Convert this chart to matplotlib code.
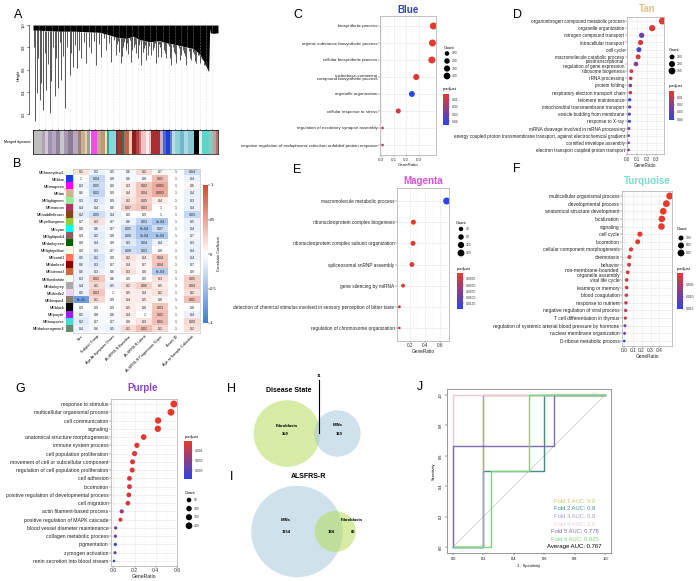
import numpy as np
import matplotlib
matplotlib.use("Agg")
import matplotlib.pyplot as plt
from matplotlib.colors import LinearSegmentedColormap, Normalize, to_rgb
from matplotlib.cm import ScalarMappable
from matplotlib.patches import Circle

plt.rcParams["font.family"] = ["Liberation Sans", "DejaVu Sans"]

# =========================
# A: dendrogram + module colours (x = leaf order 0..555)
# =========================
leaf_x = [7, 12, 20, 25, 30, 40, 50, 55, 65, 75, 85, 97, 110, 120, 132, 145, 160, 175, 190, 205,
          220, 235, 250, 265, 280, 295, 310, 325, 340, 355, 370, 385, 400, 415, 430, 445, 460, 475,
          490, 505, 515, 527,
          3, 16, 35, 45, 60, 70, 80, 90, 103, 115, 126, 138, 152, 168, 182, 198, 212, 228, 242,
          255, 270, 282, 302, 318, 333, 348, 362, 378, 392, 408, 422, 438, 452, 468, 482, 498, 510, 522,
          252, 258, 262, 268, 274, 278, 285, 290, 298, 306, 314, 321, 329, 336, 344, 352, 359, 366,
          374, 381, 389, 396, 404, 411, 419, 426, 434, 441, 449, 456, 464, 471, 479, 486, 494, 501,
          508, 513, 519, 524]
leaf_h = [0.134, 0.388, 0.328, 0.478, 0.239, 0.418, 0.209, 0.493, 0.358, 0.433, 0.507, 0.254, 0.552,
          0.627, 0.612, 0.701, 0.657, 0.746, 0.642, 0.716, 0.776, 0.672, 0.731, 0.657, 0.776, 0.672,
          0.746, 0.642, 0.687, 0.731, 0.657, 0.716, 0.701, 0.642, 0.657, 0.731, 0.642, 0.687, 0.657,
          0.701, 0.642, 0.582,
          0.80, 0.70, 0.75, 0.65, 0.80, 0.70, 0.85, 0.72, 0.80, 0.75, 0.82, 0.78, 0.85, 0.80, 0.86,
          0.83, 0.88, 0.84, 0.87,
          0.86, 0.80, 0.84, 0.80, 0.82, 0.79, 0.81, 0.80, 0.83, 0.78, 0.81, 0.76, 0.79, 0.75, 0.77,
          0.74, 0.73, 0.70, 0.68,
          0.83, 0.76, 0.88, 0.72, 0.85, 0.80, 0.74, 0.87, 0.78, 0.83, 0.70, 0.86, 0.76, 0.82, 0.73,
          0.85, 0.78, 0.84, 0.71, 0.80, 0.86, 0.75, 0.83, 0.70, 0.80, 0.74, 0.84, 0.69, 0.78, 0.72,
          0.81, 0.70, 0.76, 0.68, 0.73, 0.66, 0.72, 0.64, 0.66, 0.62]
canopy_x = [0, 40, 80, 120, 160, 200, 230, 250, 280, 300, 320, 350, 380, 400, 420, 450, 480, 500,
            515, 527, 530, 532, 540, 555]
canopy_h = [0.955, 0.95, 0.945, 0.945, 0.94, 0.935, 0.91, 0.89, 0.88, 0.90, 0.87, 0.85, 0.86, 0.84,
            0.83, 0.81, 0.79, 0.74, 0.66, 0.58, 0.97, 0.93, 0.925, 0.93]
module_edges = [0, 28, 37, 46, 58, 70, 80, 92, 105, 120, 135, 145, 155, 162, 170, 175, 193, 205,
                215, 222, 228, 248, 256, 268, 274, 288, 298, 310, 318, 325, 340, 348, 355, 380,
                390, 398, 410, 418, 425, 440, 452, 465, 482, 498, 506, 528, 540, 550, 555]
module_colors = ["#BEBEBE", "#A8A8A8", "#D3C4D6", "#9E93AC", "#B5A7C4", "#8F8499", "#C8C8C8",
                 "#A897B0", "#8C7C94", "#B8A7BE", "#9B8577", "#C9AF8F", "#E6D4A0", "#A0A0A0",
                 "#F0F0F0", "#F04CF0", "#C8A88A", "#B89A7A", "#D8F0A0", "#40A0A0", "#80DCDC",
                 "#7A3A3A", "#A03A3A", "#3A703A", "#B86A5A", "#E8D0B0", "#8B2020", "#B04040",
                 "#D07070", "#F5C0C8", "#F8F0F0", "#E0C0C0", "#A83030", "#C0B0D0", "#5060E8",
                 "#2040D0", "#6080E0", "#C0D8E8", "#90D0D8", "#6FB8C8", "#A8D8E8", "#88C8D0",
                 "#000000", "#E8E8E8", "#58D8C8", "#A0C0C0", "#C0A0A0", "#B07070"]

# =========================
# B: module-trait relationships
# =========================
traits = ["Sex", "Subject Group", "Age At Symptom Onset", "ALSFRS-R Baseline", "ALSFRS-R Latest",
          "ALSFRS-R Progression Slope", "Batch ID", "Age at Sample Collection"]
me_names = ["MEhoneydew1", "MEblue", "MEmagenta", "MEtan", "MElightgreen", "MEmaroon",
            "MEsaddlebrown", "MEyellowgreen", "MEcyan", "MElightpink4", "MEdarkgreen",
            "MElightyellow", "MEcoral1", "MEdarkred", "MEsienna3", "MEfloralwhite", "MEdarkgrey",
            "MEthistle2", "MEbisque4", "MEblack", "MEpurple", "MEturquoise", "MEdarkseagreen4"]
me_colors = ["#F0FFF0", "#2040E0", "#FF00FF", "#D2B48C", "#90EE90", "#B03060", "#8B4513",
             "#9ACD32", "#00FFFF", "#8B5F65", "#006400", "#FFFFE0", "#FF7256", "#8B0000",
             "#CD6839", "#FFFAF0", "#A9A9A9", "#EED2EE", "#8B7D6B", "#000000", "#A020F0",
             "#40E0D0", "#698B69"]
me_pval = [
    ["0.1", "0.2", "0.5", "0.6", "0.2", "0.7", "1", "0.04"],
    ["1", "0.04", "0.9", "0.6", "0.8", "0.01", "1", "0.4"],
    ["0.3", "0.05", "0.9", "0.3", "0.02", "0.001", "1", "0.6"],
    ["0.6", "0.02", "0.9", "0.4", "0.04", "0.002", "1", "0.4"],
    ["0.3", "0.2", "0.9", "0.2", "0.05", "0.4", "1", "0.3"],
    ["0.4", "0.4", "0.6", "0.07", "0.03", "1", "1", "0.4"],
    ["0.2", "0.05", "0.4", "0.9", "0.9", "1", "1", "0.03"],
    ["0.7", "0.3", "0.7", "0.6", "0.03", "1e-04", "1", "0.5"],
    ["0.8", "0.6", "0.7", "0.05", "8e-04", "0.07", "1", "0.4"],
    ["0.9", "0.2", "0.8", "0.08", "7e-04", "6e-04", "1", "0.7"],
    ["0.9", "0.4", "0.9", "0.3", "0.04", "0.4", "1", "0.3"],
    ["0.9", "0.3", "0.7", "0.08", "0.03", "0.8", "1", "0.4"],
    ["0.5", "0.1", "0.9", "0.2", "0.4", "0.04", "1", "0.4"],
    ["0.6", "0.3", "0.7", "0.4", "0.7", "0.04", "1", "0.7"],
    ["0.6", "0.3", "0.6", "0.3", "0.8", "6e-04", "1", "0.9"],
    ["0.3", "0.02", "0.6", "0.9", "0.9", "0.3", "1", "0.05"],
    ["0.4", "0.1", "0.5", "0.2", "0.06", "0.5", "1", "0.04"],
    ["0.5", "0.03", "1", "0.5", "0.4", "0.2", "1", "0.2"],
    ["6e-15", "0.1", "0.9", "0.4", "0.5", "0.8", "1", "0.01"],
    ["0.9", "0.9", "0.9", "0.5", "0.8", "0.03", "1", "0.8"],
    ["0.5", "0.8", "0.6", "0.4", "1", "0.01", "1", "0.4"],
    ["0.2", "0.7", "0.7", "0.8", "0.3", "0.01", "1", "0.09"],
    ["0.4", "0.6", "0.5", "0.1", "0.01", "0.1", "1", "0.2"],
]
me_corr = [
    [0.15, -0.10, -0.05, -0.05, 0.20, -0.05, 0, -0.25],
    [0.00, -0.30, -0.05, -0.05, -0.05, 0.35, 0, -0.10],
    [-0.10, -0.25, -0.05, 0.10, 0.30, 0.45, 0, 0.05],
    [-0.05, -0.30, -0.03, 0.10, 0.30, 0.45, 0, -0.10],
    [-0.10, -0.15, -0.05, 0.15, 0.25, 0.10, 0, -0.10],
    [-0.10, -0.10, -0.05, 0.25, 0.30, 0.00, 0, -0.10],
    [-0.15, -0.25, -0.10, -0.02, 0.02, 0.00, 0, -0.30],
    [-0.05, 0.15, -0.05, -0.10, -0.30, -0.45, 0, -0.10],
    [-0.05, -0.10, -0.05, -0.25, -0.45, -0.25, 0, -0.10],
    [0.00, -0.15, -0.05, -0.25, -0.45, -0.45, 0, -0.05],
    [-0.02, -0.10, -0.02, -0.15, -0.30, -0.10, 0, -0.10],
    [0.00, -0.10, -0.05, -0.25, -0.30, 0.00, 0, -0.10],
    [-0.10, -0.20, -0.02, 0.15, 0.10, 0.30, 0, -0.10],
    [-0.10, -0.15, -0.05, 0.10, 0.05, 0.30, 0, -0.05],
    [-0.10, -0.10, -0.05, 0.15, 0.05, -0.40, 0, 0.00],
    [-0.10, 0.30, -0.05, 0.00, 0.00, 0.15, 0, 0.25],
    [-0.10, 0.20, -0.10, 0.15, 0.25, 0.10, 0, 0.25],
    [-0.10, 0.30, 0.00, 0.10, 0.10, 0.15, 0, 0.15],
    [-0.75, 0.20, -0.02, 0.10, 0.10, 0.05, 0, 0.35],
    [0.00, 0.00, 0.00, 0.10, 0.05, 0.30, 0, 0.00],
    [-0.10, -0.05, -0.05, 0.10, 0.00, 0.35, 0, -0.10],
    [-0.15, -0.05, -0.05, 0.05, 0.15, 0.35, 0, 0.20],
    [-0.10, -0.05, -0.10, 0.20, 0.35, 0.20, 0, 0.15],
]

# =========================
# C-G: GO enrichment dot plots
# =========================
blue_terms = ["biosynthetic process", "organic substance biosynthetic process",
              "cellular biosynthetic process", "nucleobase-containing\ncompound biosynthetic process",
              "organelle organization", "cellular response to stress",
              "regulation of excitatory synapse assembly",
              "negative regulation of endoplasmic reticulum unfolded protein response"]
blue_ratio = [0.418, 0.410, 0.405, 0.28, 0.245, 0.136, 0.01, 0.01]
blue_count = [450, 442, 437, 302, 265, 147, 11, 11]
blue_padj = [0.002, 0.0022, 0.0025, 0.004, 0.044, 0.008, 0.012, 0.016]

tan_terms = ["organonitrogen compound metabolic process", "organelle organization",
             "nitrogen compound transport", "intracellular transport", "cell cycle",
             "macromolecule catabolic process", "posttranscriptional\nregulation of gene expression",
             "ribosome biogenesis", "rRNA processing", "protein folding",
             "respiratory electron transport chain", "telomere maintenance",
             "mitochondrial transmembrane transport", "vesicle budding from membrane",
             "response to X-ray", "mRNA cleavage involved in mRNA processing",
             "energy coupled proton transmembrane transport, against electrochemical gradient",
             "cornified envelope assembly", "electron transport coupled proton transport"]
tan_ratio = [0.36, 0.256, 0.148, 0.137, 0.12, 0.112, 0.09, 0.043, 0.036, 0.032, 0.032, 0.025,
             0.025, 0.022, 0.022, 0.018, 0.015, 0.015, 0.015]
tan_count = [324, 230, 133, 123, 108, 101, 81, 39, 32, 29, 29, 23, 23, 20, 20, 16, 14, 14, 14]
tan_padj = [0.001, 0.003, 0.028, 0.005, 0.035, 0.004, 0.022, 0.006, 0.008, 0.024, 0.009, 0.040,
            0.027, 0.034, 0.036, 0.026, 0.025, 0.025, 0.027]

magenta_terms = ["macromolecule metabolic process", "ribonucleoprotein complex biogenesis",
                 "ribonucleoprotein complex subunit organization", "spliceosomal snRNP assembly",
                 "gene silencing by miRNA",
                 "detection of chemical stimulus involved in sensory perception of bitter taste",
                 "regulation of chromosome organization"]
magenta_ratio = [0.69, 0.24, 0.235, 0.22, 0.10, 0.05, 0.05]
magenta_count = [172, 60, 59, 55, 25, 13, 12]
magenta_padj = [0.0148, 0.0003, 0.0004, 0.0006, 0.0012, 0.0022, 0.003]

turq_terms = ["multicellular organismal process", "developmental process",
              "anatomical structure development", "localization", "signaling", "cell cycle",
              "locomotion", "cellular component morphogenesis", "chemotaxis", "behavior",
              "non-membrane-bounded\norganelle assembly", "viral life cycle", "learning or memory",
              "blood coagulation", "response to nutrient", "negative regulation of viral process",
              "T cell differentiation in thymus",
              "regulation of systemic arterial blood pressure by hormone",
              "nuclear membrane organization", "D-ribose metabolic process"]
turq_ratio = [0.516, 0.478, 0.443, 0.427, 0.423, 0.18, 0.155, 0.08, 0.062, 0.058, 0.043, 0.031,
              0.031, 0.027, 0.023, 0.02, 0.016, 0.012, 0.008, 0.004]
turq_count = [980, 908, 842, 811, 804, 342, 295, 152, 118, 110, 82, 59, 59, 51, 44, 38, 30, 23,
              15, 8]
turq_padj = [0.0001, 0.0001, 0.0001, 0.0002, 0.0002, 0.0005, 0.0006, 0.001, 0.0012, 0.0013,
             0.0015, 0.002, 0.002, 0.0022, 0.0025, 0.003, 0.0035, 0.008, 0.0095, 0.0152]

purple_terms = ["response to stimulus", "multicellular organismal process", "cell communication",
                "signaling", "anatomical structure morphogenesis", "immune system process",
                "cell population proliferation", "movement of cell or subcellular component",
                "regulation of cell population proliferation", "cell adhesion", "locomotion",
                "positive regulation of developmental process", "cell migration",
                "actin filament-based process", "positive regulation of MAPK cascade",
                "blood vessel diameter maintenance", "collagen metabolic process", "pigmentation",
                "zymogen activation", "renin secretion into blood stream"]
purple_ratio = [0.571, 0.543, 0.422, 0.419, 0.286, 0.222, 0.20, 0.181, 0.178, 0.152, 0.152,
                0.146, 0.137, 0.079, 0.067, 0.022, 0.019, 0.019, 0.016, 0.006]
purple_count = [228, 217, 169, 168, 114, 89, 80, 72, 71, 61, 61, 58, 55, 32, 27, 9, 8, 8, 6, 2]
purple_padj = [0.00005, 0.00005, 0.0001, 0.0001, 0.0002, 0.0003, 0.0003, 0.0004, 0.0004, 0.0004,
               0.0005, 0.0005, 0.0005, 0.0018, 0.0006, 0.0024, 0.0026, 0.0034, 0.0028, 0.0038]

# =========================
# H, I: Venn counts ; J: ROC folds
# =========================
ds_fib_only, ds_imn_only, ds_both = 359, 169, 11
al_imn_only, al_fib_only, al_both = 1154, 86, 184

roc_fpr = [[0, 0.2, 0.2, 1], [0, 0.2, 0.2, 0.6, 0.6, 1], [0, 0.2, 0.2, 1], [0, 0, 1],
           [0, 0, 0.667, 0.667, 1], [0, 0.25, 0.25, 0.5, 0.5, 1]]
roc_tpr = [[0, 0, 1, 1], [0, 0, 0.5, 0.5, 1, 1], [0, 0, 1, 1], [0, 1, 1],
           [0, 0.667, 0.667, 1, 1], [0, 0, 0.5, 0.5, 1, 1]]
fold_auc = ["0.8", "0.6", "0.8", "1.0", "0.778", "0.625"]
fold_colors = ["#C9C86A", "#3E8E86", "#A8A0D0", "#EBCBD3", "#7A6CB0", "#7ED37E"]
mean_auc = "0.767"

# =========================
# Figure helpers
# =========================
W, H = 700, 581
fig = plt.figure(figsize=(7, 5.81), dpi=100)


def px_axes(x0, y0, x1, y1):
    return fig.add_axes([x0 / W, 1 - y1 / H, (x1 - x0) / W, (y1 - y0) / H])


ov = fig.add_axes([0, 0, 1, 1])
ov.set_xlim(0, W)
ov.set_ylim(H, 0)
ov.axis("off")
ov.set_zorder(10)
ov.patch.set_alpha(0)

padj_cmap = LinearSegmentedColormap.from_list("padj", ["#E8392C", "#2B45E6"])
corr_cmap = LinearSegmentedColormap.from_list("corr", ["#3C7DD9", "#FFFFFF", "#D9472B"])


def dot_area(counts, cmin, cmax):
    frac = (np.asarray(counts, float) - cmin) / (cmax - cmin)
    d = 2.6 + (7.0 - 2.6) * np.sqrt(np.clip(frac, 0, None))
    return (d * 0.72) ** 2


def dotplot(x0, x1, y_first, y_last, terms, ratio, count, padj, vmin, vmax, xticks, fs):
    n = len(terms)
    sp = (y_last - y_first) / (n - 1)
    ax = px_axes(x0, y_first - 0.6 * sp, x1, y_last + 0.6 * sp)
    ypos = np.arange(n)[::-1]
    ax.scatter(ratio, ypos, s=dot_area(count, min(count), max(count)), c=padj,
               cmap=padj_cmap, vmin=vmin, vmax=vmax, edgecolors="none", zorder=3)
    lo, hi = min(ratio), max(ratio)
    pad = 0.05 * (hi - lo)
    ax.set_xlim(lo - pad, hi + pad)
    ax.set_ylim(-0.6, n - 0.4)
    ax.set_yticks(ypos)
    ax.set_yticklabels(terms, fontsize=fs, color="#222", linespacing=0.95)
    ax.set_xticks(xticks)
    ax.set_xticklabels([f"{t:.1f}" for t in xticks], fontsize=fs, color="#333")
    mids = (np.array(xticks[:-1]) + np.array(xticks[1:])) / 2
    ax.set_xticks(mids, minor=True)
    ax.tick_params(axis="x", which="minor", length=0)
    ax.tick_params(which="major", length=1.2, width=0.3, pad=0.6, color="#444")
    ax.grid(True, which="major", color="#E6E6E6", lw=0.4)
    ax.grid(True, which="minor", axis="x", color="#F2F2F2", lw=0.3)
    ax.set_axisbelow(True)
    for s in ax.spines.values():
        s.set_color("#AAAAAA")
        s.set_linewidth(0.5)
    ax.set_xlabel("GeneRatio", fontsize=fs, labelpad=0.6, color="#222")
    return ax


def count_legend(tx, ty, dx, dy0, step, values, counts):
    ov.text(tx, ty, "Count", fontsize=2.9, ha="left", va="center")
    ys = [dy0 + i * step for i in range(len(values))]
    ov.scatter([dx] * len(values), ys, s=dot_area(values, min(counts), max(counts)),
               color="black", edgecolors="none")
    for v, y in zip(values, ys):
        ov.text(dx + 5, y, str(v), fontsize=2.4, ha="left", va="center", color="#333")


def padj_bar(tx, ty, box, vmin, vmax, ticks, labels):
    ov.text(tx, ty, "p.adjust", fontsize=2.9, ha="left", va="center")
    cax = px_axes(*box)
    cb = fig.colorbar(ScalarMappable(norm=Normalize(vmin, vmax), cmap=padj_cmap), cax=cax)
    cax.invert_yaxis()
    cb.set_ticks(ticks)
    cb.set_ticklabels(labels)
    cb.outline.set_visible(False)
    cax.tick_params(labelsize=2.4, length=1, width=0.3, pad=0.8, colors="#333")


# =========================
# Panel letters & titles
# =========================
for lab, x, y in [("A", 18, 15), ("B", 17, 164), ("C", 298, 15), ("D", 518, 15),
                  ("E", 297, 170), ("F", 517, 169), ("G", 20, 389), ("H", 231, 389),
                  ("I", 232, 477), ("J", 420, 387)]:
    ov.text(x, y, lab, fontsize=9, ha="center", va="center")

for title, col, x, y in [("Blue", "#3040B8", 408, 10), ("Tan", "#E2C38A", 647, 9),
                         ("Magenta", "#D654D6", 423, 181), ("Turquoise", "#7ADCCB", 647, 181),
                         ("Purple", "#8E44C8", 143, 388)]:
    ov.text(x, y, title, fontsize=7, fontweight="bold", color=col, ha="center", va="center")

# =========================
# A
# =========================
axA = px_axes(33, 21.7, 218, 128.5)
axA.set_xticks(np.linspace(0, 555, 31)[1:-1], minor=True)
axA.grid(True, which="minor", axis="x", ls=":", color="#D0D0D0", lw=0.4)
axA.fill_between(canopy_x, canopy_h, 1.0, color="black", lw=0)
axA.vlines(leaf_x, leaf_h, np.interp(leaf_x, canopy_x, canopy_h), color="#2A2A2A", lw=0.55)
axA.set_xlim(0, 555)
axA.set_ylim(0.07, 1.03)
axA.set_xticks([])
for s in ["top", "right", "bottom"]:
    axA.spines[s].set_visible(False)
axA.spines["left"].set_bounds(0.2, 1.0)
axA.spines["left"].set_position(("outward", 3))
axA.spines["left"].set_linewidth(0.4)
axA.set_yticks([0.2, 0.4, 0.6, 0.8, 1.0])
axA.set_yticklabels(["0.2", "0.4", "0.6", "0.8", "1.0"], rotation=90, va="center")
axA.tick_params(axis="y", labelsize=2.8, length=1.2, width=0.4, pad=1)
axA.set_ylabel("Height", fontsize=2.8, labelpad=1)

axM = px_axes(33, 130, 218, 154)
axM.bar(module_edges[:-1], 1, width=np.diff(module_edges), align="edge", color=module_colors,
        lw=0)
axM.set_xlim(0, 555)
axM.set_ylim(0, 1)
axM.set_xticks([])
axM.set_yticks([])
for s in axM.spines.values():
    s.set_linewidth(0.5)
ov.text(31, 142, "Merged dynamic", fontsize=2.6, ha="right", va="center")

# =========================
# B
# =========================
axB = px_axes(73, 168.5, 200, 332.5)
axB.imshow(np.array(me_corr), cmap=corr_cmap, vmin=-1, vmax=1, aspect="auto",
           interpolation="nearest")
for i, row in enumerate(me_pval):
    for j, lab in enumerate(row):
        axB.text(j, i, lab, ha="center", va="center", fontsize=2.5, color="#222")
axB.set_yticks([])
axB.set_xticks(range(len(traits)))
axB.set_xticklabels(traits, rotation=45, ha="right", rotation_mode="anchor", fontsize=2.7)
axB.tick_params(length=0, pad=1.5)
for s in axB.spines.values():
    s.set_color("#BBBBBB")
    s.set_linewidth(0.4)

axS = px_axes(66, 168.5, 72.5, 332.5)
axS.imshow(np.array([to_rgb(c) for c in me_colors])[:, None, :], aspect="auto",
           interpolation="nearest")
axS.set_xticks([])
axS.set_yticks(range(len(me_names)))
axS.set_yticklabels(me_names, fontsize=2.8)
axS.tick_params(length=0, pad=1)
for s in axS.spines.values():
    s.set_visible(False)

caxB = px_axes(203, 185, 207.5, 323)
cbB = fig.colorbar(ScalarMappable(norm=Normalize(-1, 1), cmap=corr_cmap), cax=caxB)
cbB.set_ticks([-1, -0.5, 0, 0.5, 1])
cbB.set_ticklabels(["-1", "-0.5", "0", "0.5", "1"])
cbB.outline.set_visible(False)
caxB.tick_params(labelsize=2.8, length=1.2, width=0.3, pad=0.8)
ov.text(219, 254, "Correlation Coefficient", fontsize=2.5, rotation=90, ha="center",
        va="center")

# =========================
# C - G
# =========================
dotplot(380, 436, 26, 145, blue_terms, blue_ratio, blue_count, blue_padj, 0.002, 0.045,
        [0.0, 0.1, 0.2, 0.3], 3.2)
count_legend(444, 48, 447, 53.5, 7.5, [100, 200, 300, 400], blue_count)
padj_bar(443, 89, (443, 94, 449, 125), 0.002, 0.045, [0.01, 0.02, 0.03, 0.04],
         ["0.01", "0.02", "0.03", "0.04"])

dotplot(627, 664, 21, 150, tan_terms, tan_ratio, tan_count, tan_padj, 0.0003, 0.0414,
        [0.0, 0.1, 0.2, 0.3], 3.3)
count_legend(669, 50, 672, 57, 7, [100, 200, 300], tan_count)
padj_bar(669, 86, (669, 91, 674, 120), 0.0003, 0.0414, [0.01, 0.02, 0.03, 0.04],
         ["0.01", "0.02", "0.03", "0.04"])

dotplot(397, 449, 201, 328, magenta_terms, magenta_ratio, magenta_count, magenta_padj,
        0.0001, 0.0148, [0.2, 0.4, 0.6], 3.4)
count_legend(456, 223, 461, 229, 8, [40, 80, 120, 160], magenta_count)
padj_bar(457, 269, (457, 273, 463, 309), 0.0001, 0.0148,
         [0.0025, 0.0050, 0.0075, 0.0100, 0.0125],
         ["0.0025", "0.0050", "0.0075", "0.0100", "0.0125"])

dotplot(622, 672, 196, 341, turq_terms, turq_ratio, turq_count, turq_padj, 0.00005, 0.0152,
        [0.0, 0.1, 0.2, 0.3, 0.4], 3.5)
count_legend(677, 229, 681, 238, 7.5, [300, 600, 900], turq_count)
padj_bar(677, 269, (677, 273, 683, 309), 0.00005, 0.0152, [0.005, 0.010, 0.015],
         ["0.005", "0.010", "0.015"])

dotplot(111, 177, 404, 561, purple_terms, purple_ratio, purple_count, purple_padj, 0.00003,
        0.0039, [0.0, 0.2, 0.4, 0.6], 3.7)
padj_bar(185, 437, (184, 441, 192, 479), 0.00003, 0.0039, [0.001, 0.002, 0.003],
         ["0.001", "0.002", "0.003"])
count_legend(185, 493, 189, 500, 8.6, [50, 100, 150, 200], purple_count)


# =========================
# H, I: area-proportional Venn diagrams
# =========================
def lens_area(r1, r2, d):
    if d >= r1 + r2:
        return 0.0
    if d <= abs(r1 - r2):
        return np.pi * min(r1, r2) ** 2
    a = r1 ** 2 * np.arccos((d * d + r1 * r1 - r2 * r2) / (2 * d * r1))
    b = r2 ** 2 * np.arccos((d * d + r2 * r2 - r1 * r1) / (2 * d * r2))
    c = 0.5 * np.sqrt((-d + r1 + r2) * (d + r1 - r2) * (d - r1 + r2) * (d + r1 + r2))
    return a + b - c


def venn(cx, cy, n_a, n_b, n_ab, r_a_px, col_a, col_b):
    scale = r_a_px / np.sqrt((n_a + n_ab) / np.pi)
    ra = r_a_px
    rb = scale * np.sqrt((n_b + n_ab) / np.pi)
    target = scale ** 2 * n_ab
    lo, hi = abs(ra - rb), ra + rb
    for _ in range(60):
        mid = 0.5 * (lo + hi)
        if lens_area(ra, rb, mid) > target:
            lo = mid
        else:
            hi = mid
    d = 0.5 * (lo + hi)
    ov.add_patch(Circle((cx, cy), ra, fc=col_a, alpha=0.55, lw=0))
    ov.add_patch(Circle((cx + d, cy), rb, fc=col_b, alpha=0.55, lw=0))
    return cx + d


FIB, IMN = "#B5DC5A", "#A9CADB"
vfs = 3.0
ov.text(289, 391, "Disease State", fontsize=5, fontweight="bold", ha="center", va="center")
cxb = venn(287, 433.5, ds_fib_only, ds_imn_only, ds_both, 33.3, FIB, IMN)
ov.text(287, 426, "Fibroblasts", fontsize=vfs, fontweight="bold", ha="center", va="center")
ov.text(285, 434, str(ds_fib_only), fontsize=vfs, fontweight="bold", ha="center", va="center")
ov.text(cxb, 425, "IMNs", fontsize=vfs, fontweight="bold", ha="center", va="center")
ov.text(cxb + 2, 434, str(ds_imn_only), fontsize=vfs, fontweight="bold", ha="center",
        va="center")
ov.plot([319, 319], [380, 433], color="black", lw=0.8)
ov.text(319, 376, str(ds_both), fontsize=vfs, fontweight="bold", ha="center", va="center")

ov.text(309, 476, "ALSFRS-R", fontsize=5, fontweight="bold", ha="center", va="center")
cxf = venn(297, 531.5, al_imn_only, al_fib_only, al_both, 45.7, IMN, FIB)
ov.text(286, 520, "IMNs", fontsize=vfs, fontweight="bold", ha="center", va="center")
ov.text(286, 532, str(al_imn_only), fontsize=vfs, fontweight="bold", ha="center", va="center")
ov.text(352, 520, "Fibroblasts", fontsize=vfs, fontweight="bold", ha="center", va="center")
ov.text(331, 532, str(al_both), fontsize=vfs, fontweight="bold", ha="center", va="center")
ov.text(353, 532, str(al_fib_only), fontsize=vfs, fontweight="bold", ha="center", va="center")

# =========================
# J: ROC curves
# =========================
axJ = px_axes(447, 389, 611, 553)
axJ.plot([0, 1], [0, 1], color="#C8C8C8", lw=0.5)
for fpr, tpr, col in zip(roc_fpr, roc_tpr, fold_colors):
    axJ.plot(fpr, tpr, color=col, lw=1.0)
axJ.set_xlim(-0.04, 1.04)
axJ.set_ylim(-0.04, 1.04)
ticks = [0.0, 0.2, 0.4, 0.6, 0.8, 1.0]
axJ.set_xticks(ticks)
axJ.set_xticklabels([f"{t:.1f}" for t in ticks])
axJ.set_yticks(ticks)
axJ.set_yticklabels([f"{t:.1f}" for t in ticks], rotation=90, va="center")
axJ.tick_params(labelsize=2.8, length=1.5, width=0.3, pad=1.5)
axJ.set_xlabel("1 - Specificity", fontsize=2.8, labelpad=2)
axJ.set_ylabel("Sensitivity", fontsize=2.8, labelpad=2)
for s in axJ.spines.values():
    s.set_color("#888888")
    s.set_linewidth(0.6)
for i, (auc, col) in enumerate(zip(fold_auc, fold_colors)):
    axJ.text(0.8, 0.30 - 0.05 * i, f"Fold {i + 1} AUC: {auc}", color=col, fontsize=4.2,
             ha="center", va="center")
axJ.text(0.8, 0.0, f"Average AUC: {mean_auc}", color="black", fontsize=4.3, ha="center",
         va="center")

fig.savefig("out.png", dpi=100)
